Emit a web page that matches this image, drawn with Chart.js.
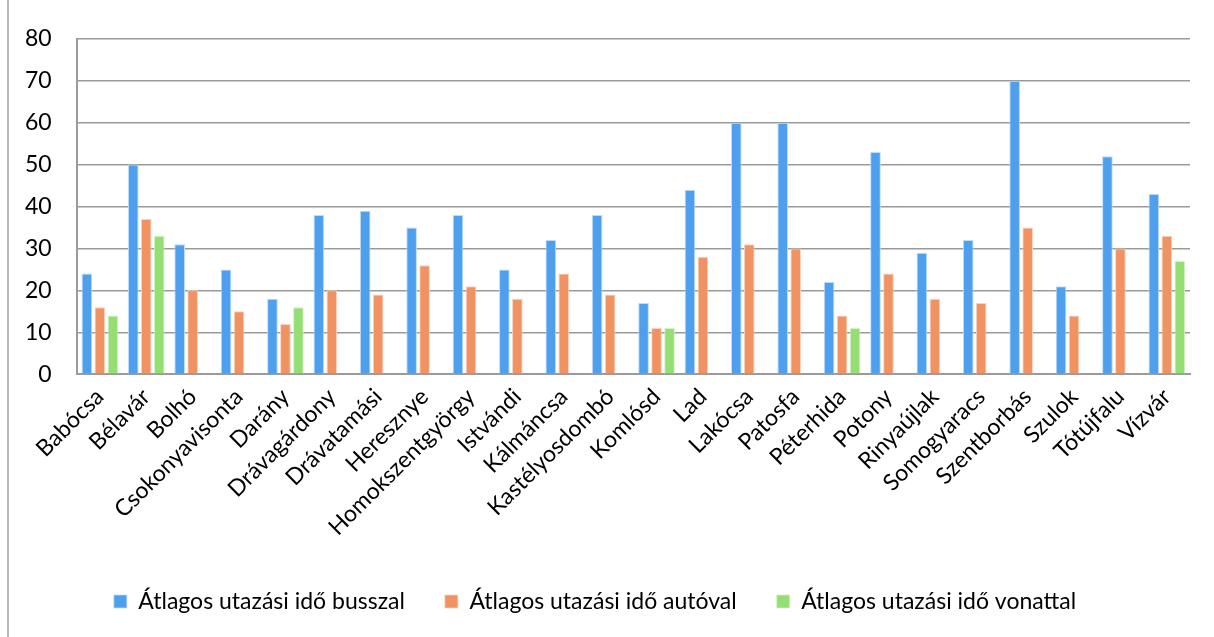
<!DOCTYPE html>
<html>
<head>
<meta charset="utf-8">
<script src="https://cdn.jsdelivr.net/npm/chart.js@4"></script>
<style>
  body { margin: 0; background: #fff; }
  #wrap { width: 1214px; height: 637px; }
</style>
</head>
<body>
<div id="wrap"><canvas id="myBarChart" width="1214" height="637"></canvas></div>
<script>
var telepulesek = ["Babócsa", "Bélavár", "Bolhó", "Csokonyavisonta", "Darány", "Drávagárdony", "Drávatamási", "Heresznye", "Homokszentgyörgy", "Istvándi", "Kálmáncsa", "Kastélyosdombó", "Komlósd", "Lad", "Lakócsa", "Patosfa", "Péterhida", "Potony", "Rinyaújlak", "Somogyaracs", "Szentborbás", "Szulok", "Tótújfalu", "Vízvár"];
var busszal = [24, 50, 31, 25, 18, 38, 39, 35, 38, 25, 32, 38, 17, 44, 60, 60, 22, 53, 29, 32, 70, 21, 52, 43];
var autoval = [16, 37, 20, 15, 12, 20, 19, 26, 21, 18, 24, 19, 11, 28, 31, 30, 14, 24, 18, 17, 35, 14, 30, 33];
var vonattal = [14, 33, null, null, 16, null, null, null, null, null, null, null, 11, null, null, null, 11, null, null, null, null, null, null, 27];

var leftBorder = {
    id: 'leftBorder',
    beforeDraw: function (chart) {
        var c = chart.ctx;
        c.save();
        c.strokeStyle = '#b8b8b8';
        c.lineWidth = 2;
        c.beginPath();
        c.moveTo(8, 0);
        c.lineTo(8, chart.height);
        c.stroke();
        c.restore();
    }
};

document.addEventListener("DOMContentLoaded", function () {
    var ctx = document.getElementById('myBarChart').getContext('2d');
    new Chart(ctx, {
        type: 'bar',
        data: {
            labels: telepulesek,
            datasets: [{
                label: 'Átlagos utazási idő busszal',
                data: busszal,
                backgroundColor: '#4f9fef',
                borderColor: '#bcdcfa',
                borderWidth: { top: 1, left: 1, right: 1, bottom: 0 },
                categoryPercentage: 0.84,
                barPercentage: 0.82
            }, {
                label: 'Átlagos utazási idő autóval',
                data: autoval,
                backgroundColor: '#f09262',
                borderColor: '#fbd2bd',
                borderWidth: { top: 1, left: 1, right: 1, bottom: 0 },
                categoryPercentage: 0.84,
                barPercentage: 0.82
            }, {
                label: 'Átlagos utazási idő vonattal',
                data: vonattal,
                backgroundColor: '#94de74',
                borderColor: '#d2f3c4',
                borderWidth: { top: 1, left: 1, right: 1, bottom: 0 },
                categoryPercentage: 0.84,
                barPercentage: 0.82
            }]
        },
        options: {
            responsive: false,
            animation: false,
            layout: { padding: { left: 0, right: 24, top: 37, bottom: 14 } },
            scales: {
                x: {
                    grid: { display: false, drawTicks: false },
                    border: { color: '#9a9a9a', width: 2 },
                    ticks: {
                        color: '#000',
                        font: { family: 'Lato', size: 23 },
                        maxRotation: 45,
                        minRotation: 45,
                        autoSkip: false,
                        padding: 9
                    }
                },
                y: {
                    min: 0,
                    max: 80,
                    grid: { color: '#9a9a9a', lineWidth: 1.5, drawTicks: false },
                    border: { color: '#9a9a9a', width: 2 },
                    ticks: {
                        stepSize: 10,
                        color: '#000',
                        font: { family: 'Lato', size: 23 },
                        padding: 25
                    }
                }
            },
            plugins: {
                legend: {
                    position: 'bottom',
                    labels: {
                        color: '#000',
                        font: { family: 'Lato', size: 23 },
                        boxWidth: 13,
                        boxHeight: 13,
                        padding: 40
                    }
                },
                tooltip: { enabled: false }
            }
        },
        plugins: [leftBorder]
    });
});
</script>
</body>
</html>
